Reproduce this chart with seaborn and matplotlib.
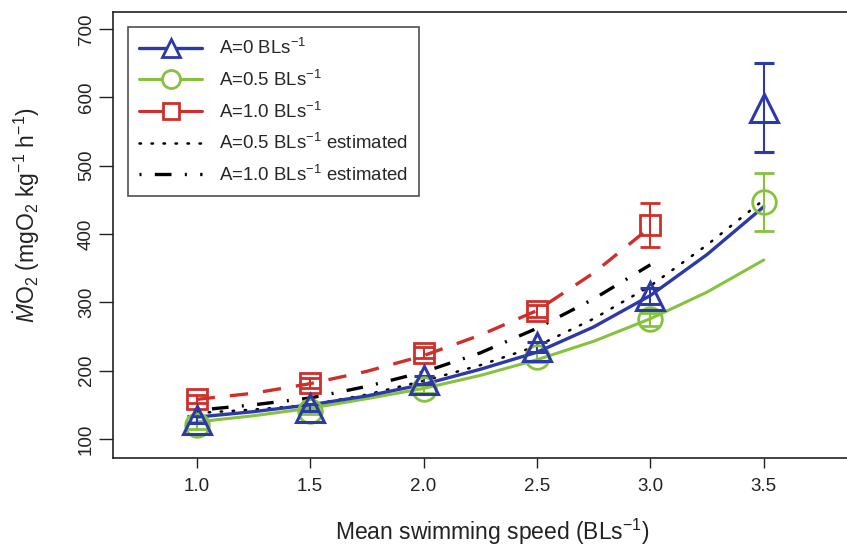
import numpy as np
import pandas as pd
import matplotlib
matplotlib.use("Agg")
import matplotlib.pyplot as plt
from matplotlib.lines import Line2D
import seaborn as sns

# Measured oxygen uptake (means and standard errors) at each swimming speed
speed = [1.0, 1.5, 2.0, 2.5, 3.0, 3.5]
mo2_a0 = [128, 146, 186, 235, 309, 585]
se_a0 = [5, 5, 6, 7, 12, 65]
mo2_a05 = [120, 141, 173, 220, 275, 447]
se_a05 = [5, 5, 6, 7, 9, 43]
speed_a10 = [1.0, 1.5, 2.0, 2.5, 3.0]
mo2_a10 = [158, 182, 226, 287, 413]
se_a10 = [6, 7, 8, 9, 32]

# Fitted and estimated curves
curve_x = [1.0, 1.25, 1.5, 1.75, 2.0, 2.25, 2.5, 2.75, 3.0, 3.25, 3.5]
fit_a0 = [132, 140, 150, 163, 180, 202, 227, 264, 310, 370, 440]
fit_a05 = [125, 134, 145, 159, 174, 193, 216, 243, 276, 315, 362]
est_a05 = [138, 143, 150, 165, 185, 208, 236, 276, 324, 384, 450]
curve_x10 = [1.0, 1.25, 1.5, 1.75, 2.0, 2.25, 2.5, 2.75, 3.0]
fit_a10 = [158, 167, 181, 199, 222, 252, 288, 343, 410]
est_a10 = [142, 150, 160, 177, 198, 226, 262, 305, 355]

blue = "#2c3aa8"
green = "#86c23d"
red = "#cf2f2b"
ink = "#222222"

sns.set_theme(style="ticks")
plt.rcParams["font.family"] = ["Liberation Sans", "DejaVu Sans"]
plt.rcParams["mathtext.fontset"] = "custom"
plt.rcParams["mathtext.rm"] = "Liberation Sans"
plt.rcParams["mathtext.it"] = "Liberation Sans:italic"
plt.rcParams["mathtext.bf"] = "Liberation Sans:bold"

fig = plt.figure(figsize=(8.47, 5.48), dpi=100)
ax = fig.add_axes([113 / 847, 90 / 548, (852 - 113) / 847, 446 / 548])

curves = pd.DataFrame({"x": curve_x, "a0": fit_a0, "a05": fit_a05, "e05": est_a05})
curves10 = pd.DataFrame({"x": curve_x10, "a10": fit_a10, "e10": est_a10})

dot_style = (0, (0.6, 4.2))
dashdot_style = (0, (0.6, 4.0, 5.0, 4.0))

sns.lineplot(data=curves, x="x", y="e05", ax=ax, color="black", lw=1.8,
             linestyle=dot_style, dash_capstyle="round")
sns.lineplot(data=curves10, x="x", y="e10", ax=ax, color="black", lw=2.4,
             linestyle=dashdot_style)
sns.lineplot(data=curves10, x="x", y="a10", ax=ax, color=red, lw=2.4,
             linestyle=(0, (5.5, 4.5)))
sns.lineplot(data=curves, x="x", y="a05", ax=ax, color=green, lw=2.2)
sns.lineplot(data=curves, x="x", y="a0", ax=ax, color=blue, lw=2.4)

ax.errorbar(speed_a10, mo2_a10, yerr=se_a10, fmt="s", ms=15, mfc="none",
            mec=red, mew=2.0, ecolor=red, elinewidth=1.5, capsize=7, capthick=1.5)
ax.errorbar(speed, mo2_a05, yerr=se_a05, fmt="o", ms=17, mfc="none",
            mec=green, mew=2.0, ecolor=green, elinewidth=1.5, capsize=7, capthick=1.5)
ax.errorbar(speed, mo2_a0, yerr=se_a0, fmt="^", ms=20, mfc="none",
            mec=blue, mew=2.2, ecolor=blue, elinewidth=1.5, capsize=7, capthick=1.5)

ax.set_xlim(0.631, 3.889)
ax.set_ylim(72.2, 724.9)
ax.set_xticks([1.0, 1.5, 2.0, 2.5, 3.0, 3.5])
ax.set_xticklabels(["1.0", "1.5", "2.0", "2.5", "3.0", "3.5"])
ax.set_yticks([100, 200, 300, 400, 500, 600, 700])
ax.set_yticklabels(["100", "200", "300", "400", "500", "600", "700"],
                   rotation=90, va="center")
ax.tick_params(axis="both", direction="out", width=1.0,
               colors=ink, labelsize=13.5, labelcolor=ink)
ax.tick_params(axis="x", length=7.5, pad=7)
ax.tick_params(axis="y", length=10, pad=3)

for side in ["left", "top", "bottom"]:
    ax.spines[side].set_visible(True)
    ax.spines[side].set_color(ink)
    ax.spines[side].set_linewidth(1.2)
ax.spines["right"].set_visible(False)

ax.set_xlabel(r"Mean swimming speed (BLs$^{-1}$)", fontsize=16.5, color=ink,
              va="center")
ax.set_ylabel(r"$\dot{M}$O$_2$ (mgO$_2$ kg$^{-1}$ h$^{-1}$)", fontsize=16.5,
              color=ink, va="center")
ax.xaxis.set_label_coords((492 - 113) / (852 - 113), -(532 - 458) / 446)
ax.yaxis.set_label_coords(-(113 - 27) / (852 - 113), (458 - 215) / 446)

handles = [
    Line2D([], [], color=blue, lw=2.4, marker="^", ms=13, mfc="white", mec=blue, mew=2.0),
    Line2D([], [], color=green, lw=2.2, marker="o", ms=13, mfc="white", mec=green, mew=2.0),
    Line2D([], [], color=red, lw=2.2, marker="s", ms=11, mfc="white", mec=red, mew=2.0),
    Line2D([], [], color="black", lw=1.8, linestyle=dot_style, dash_capstyle="round"),
    Line2D([], [], color="black", lw=2.4, linestyle=dashdot_style),
]
labels = [
    r"A=0 BLs$^{-1}$",
    r"A=0.5 BLs$^{-1}$",
    r"A=1.0 BLs$^{-1}$",
    r"A=0.5 BLs$^{-1}$ estimated",
    r"A=1.0 BLs$^{-1}$ estimated",
]
leg = ax.legend(handles, labels, loc="upper left",
                bbox_to_anchor=(128 / 847, 1 - 27 / 548),
                bbox_transform=fig.transFigure, borderaxespad=0,
                fontsize=13.4, frameon=True, fancybox=False,
                edgecolor=ink, handlelength=3.4, handletextpad=0.9,
                labelspacing=0.62, borderpad=0.6)
leg.get_frame().set_linewidth(1.2)

fig.savefig("out.png", dpi=100)
